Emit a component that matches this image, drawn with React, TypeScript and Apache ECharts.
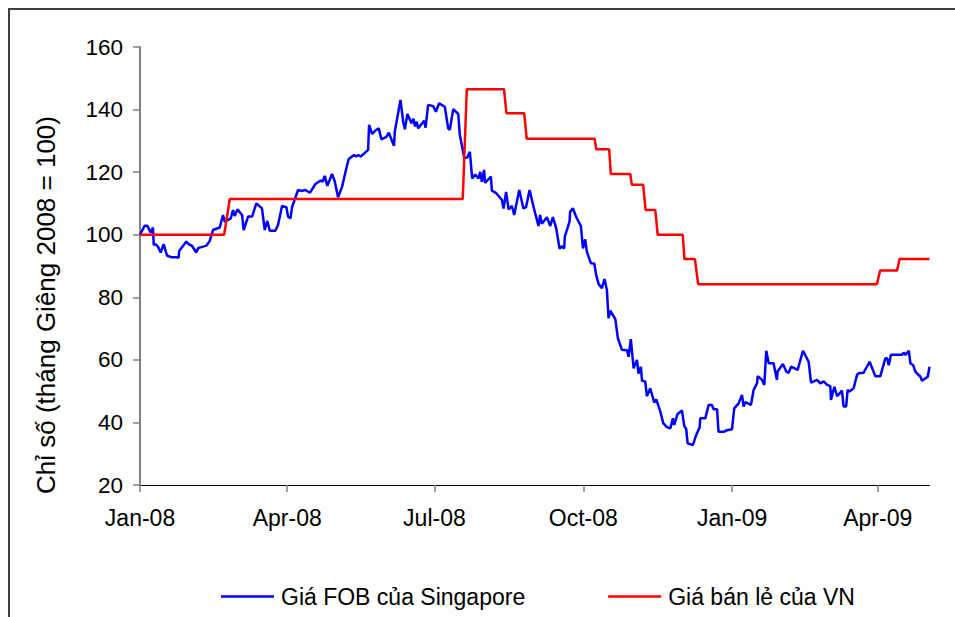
import React, { useEffect, useRef } from 'react';
import * as echarts from 'echarts';

// x = days since 1 Jan 2008
const xTickDays = [0, 91, 182, 274, 366, 456];
const xTickLabels = ['Jan-08', 'Apr-08', 'Jul-08', 'Oct-08', 'Jan-09', 'Apr-09'];
const yTicks = { min: 20, max: 160, interval: 20 };
const yAxisTitle = 'Chỉ số (tháng Giêng 2008 = 100)';
const seriesNames = ['Giá FOB của Singapore', 'Giá bán lẻ của VN'];

const fobDays = [
  0, 2.9, 4.5, 6.6, 8, 8.5, 9.5, 11.1, 12.8, 14.6, 16.7, 19.4, 22.5, 23.8, 24.3, 28.7, 30, 32.2, 34.8, 35.9,
  41, 43.1, 45.1, 49.3, 51.3, 52.4, 56.1, 57.5, 58.5, 60.2, 63.1, 64.1, 66.8, 69.3, 71.9, 75.4, 77.1, 78.7, 80.2, 83.7,
  85.3, 87.8, 90.5, 91.5, 93, 94, 97.7, 99.8, 102.2, 105, 108.4, 111.7, 113, 114.2, 115.8, 118.7, 120.4, 122.4, 124.9, 127.6,
  129, 132.3, 133.7, 135, 136.5, 141, 141.6, 143.5, 145.5, 147.6, 149.2, 152.3, 153.8, 157, 157.5, 161, 162.7, 163.7, 165.3, 167.8,
  169, 170, 171, 172, 175.6, 176.5, 178.1, 181.2, 182.9, 184.9, 188.4, 190.5, 191.5, 193.6, 196.7, 197.7, 200.4, 202.2, 203.9, 205.3,
  207.2, 209.3, 210.3, 211.3, 212.7, 213.3, 216.9, 217.5, 220, 223.7, 224.7, 226.3, 227.8, 229.9, 231.3, 234.4, 237, 238.6, 240.8, 243.2,
  246.3, 247.3, 248.4, 251.5, 253.6, 255.2, 257.3, 259.3, 260.7, 262.2, 262.6, 265.5, 265.9, 267.6, 269.6, 272.5, 273.8, 275.2, 276.2, 278.7,
  280.8, 282, 283.5, 285.5, 287.1, 288.6, 289.6, 290.7, 293.8, 295.4, 297.9, 301, 302, 303.4, 305.1, 307.2, 308.1, 309.6, 310.3, 312.3,
  313.3, 315.4, 317.9, 319.1, 321.6, 323.4, 325.7, 327.8, 329.4, 330.2, 332.3, 335, 336.4, 337.6, 338.5, 341.8, 343.8, 345.9, 346.3, 349.4,
  351.5, 353.5, 354.6, 356.7, 357.6, 360.7, 362.8, 365.9, 367.3, 370, 372.1, 373.1, 374.1, 377.6, 379.3, 381.4, 381.8, 384.5, 385.9, 387.1,
  388.6, 391.6, 393.7, 394.1, 397.4, 399.5, 400.9, 402.4, 406.5, 409.8, 413.3, 414.8, 418.5, 420.5, 422.6, 424.7, 426.7, 427.1, 429.2, 430.9,
  432.5, 433.9, 434.9, 436.5, 437.4, 438.6, 441.1, 443.2, 444.2, 447.3, 451, 454.5, 457.6, 460.7, 461.8, 462.8, 464.2, 471, 472, 473.1,
  475.2, 476.2, 477.9, 479.3, 482.4, 483.4, 485.5, 486.9, 488,
];
const fobValues = [
  100, 102.9, 102.9, 100.6, 102.3, 96.7, 97.0, 96.2, 94.3, 97.0, 93.3, 92.8, 92.8, 92.6, 94.9, 97.8, 97.0, 96.4, 94.3, 95.7,
  96.5, 98.0, 101.5, 102.3, 106.3, 104.2, 105.2, 107.9, 106.0, 108.1, 106.3, 101.5, 105.8, 105.8, 110.0, 108.4, 101.5, 104.4, 101.3, 101.3,
  103.1, 109.2, 108.8, 105.8, 105.2, 108.8, 114.3, 114.0, 114.3, 113.4, 116.2, 117.3, 117.0, 118.8, 115.6, 119.4, 117.0, 112.0, 115.3, 121.4,
  124.2, 125.5, 125.0, 125.5, 125.0, 127.1, 135.1, 132.2, 133.3, 134.0, 130.5, 131.3, 132.6, 128.4, 132.9, 143.1, 136.1, 133.7, 138.6, 135.6,
  137.1, 134.6, 136.1, 134.0, 136.4, 134.2, 141.5, 141.1, 139.3, 142.0, 140.9, 134.0, 133.5, 140.1, 138.6, 131.9, 124.7, 124.6, 126.5, 118.0,
  119.2, 118.0, 120.1, 116.9, 120.7, 116.6, 118.6, 114.1, 113.4, 111.1, 108.4, 113.7, 108.1, 109.2, 106.3, 114.3, 108.4, 108.8, 114.3, 109.0,
  102.8, 106.3, 103.5, 105.6, 102.8, 105.6, 102.0, 95.6, 96.3, 95.6, 99.4, 104.2, 107.4, 108.4, 105.7, 102.8, 95.6, 98.5, 94.6, 90.9,
  90.8, 87.1, 84.2, 82.9, 85.8, 82.3, 73.3, 75.7, 73.0, 66.9, 63.2, 63.1, 61.0, 66.6, 57.3, 60.0, 55.6, 57.8, 53.3, 53.1,
  48.4, 50.9, 46.3, 47.4, 43.5, 39.8, 38.5, 38.1, 41.3, 39.2, 42.7, 43.8, 38.9, 37.9, 33.3, 32.8, 36.0, 38.4, 41.3, 41.3,
  45.6, 45.6, 44.2, 44.2, 37.0, 37.0, 37.5, 37.8, 44.5, 46.1, 48.8, 45.1, 46.5, 45.6, 50.4, 52.5, 54.8, 53.6, 52.0, 62.9,
  58.9, 58.9, 53.6, 56.3, 58.7, 56.3, 55.8, 57.8, 56.8, 62.9, 59.4, 52.7, 53.6, 52.5, 53.1, 52.0, 51.6, 47.2, 51.4, 48.4,
  49.3, 50.2, 45.1, 45.1, 50.4, 49.9, 50.9, 55.2, 55.7, 55.9, 59.4, 54.8, 54.8, 60.5, 60.5, 58.3, 61.6, 61.6, 62.3, 61.6,
  62.9, 58.9, 58.3, 56.2, 54.6, 53.3, 54.1, 54.6, 57.8,
];

const retailDays = [
  0, 52, 55.5, 199.5, 202, 225, 226.5, 237.5, 239, 281, 282, 290, 291, 303, 304, 311, 312.5, 318.5, 320, 335.5,
  336.5, 343, 345, 455.5, 457.5, 468, 469.5, 488,
];
const retailValues = [
  100, 100, 111.4, 111.4, 146.5, 146.5, 138.8, 138.8, 130.7, 130.7, 127.3, 127.3, 119.4, 119.4, 116, 116, 107.9, 107.9, 100, 100,
  92.2, 92.2, 84.2, 84.2, 88.6, 88.6, 92.2, 92.2,
];

const FONT = '"Liberation Sans", Arial, sans-serif';

export default function App() {
  const ref = useRef<HTMLDivElement>(null);
  useEffect(() => {
    if (!ref.current) return;
    document.body.style.margin = '0';
    document.body.style.overflow = 'hidden';
    const chart = echarts.init(ref.current, null, { renderer: 'svg' });
    const fobData = fobDays.map((d, i) => [d, fobValues[i]]);
    const retailData = retailDays.map((d, i) => [d, retailValues[i]]);
    chart.setOption({
      animation: false,
      backgroundColor: '#ffffff',
      textStyle: { fontFamily: FONT },
      grid: { left: 140, right: 25.5, top: 47, bottom: 132, containLabel: false },
      xAxis: {
        type: 'value',
        min: 0,
        max: 488,
        splitLine: { show: false },
        axisLine: { show: true, lineStyle: { color: '#000000', width: 1.2 } },
        axisTick: { show: true, length: 7, inside: false, customValues: xTickDays, lineStyle: { color: '#808080', width: 1.5 } },
        axisLabel: {
          customValues: xTickDays,
          formatter: (v: number) => {
            const idx = xTickDays.indexOf(Math.round(v));
            return idx >= 0 ? xTickLabels[idx] : '';
          },
          fontSize: 23,
          color: '#000000',
          margin: 21,
          fontFamily: FONT,
        },
      },
      yAxis: {
        type: 'value',
        min: yTicks.min,
        max: yTicks.max,
        interval: yTicks.interval,
        splitLine: { show: false },
        axisLine: { show: true, lineStyle: { color: '#808080', width: 2 } },
        axisTick: { show: true, length: 7, inside: false, lineStyle: { color: '#808080', width: 1.5 } },
        axisLabel: { fontSize: 22.5, color: '#000000', margin: 17, fontFamily: FONT },
      },
      legend: {
        data: seriesNames,
        left: 221,
        top: 585,
        padding: 0,
        icon: 'rect',
        itemWidth: 53,
        itemHeight: 2.5,
        itemGap: 83,
        textStyle: { fontSize: 23, color: '#000000', fontFamily: FONT, padding: [0, 0, 0, 2] },
      },
      graphic: [
        {
          type: 'line',
          shape: { x1: 8, y1: 9, x2: 955, y2: 9 },
          style: { stroke: '#404040', lineWidth: 2 },
          silent: true,
        },
        {
          type: 'line',
          shape: { x1: 9, y1: 8, x2: 9, y2: 617 },
          style: { stroke: '#404040', lineWidth: 2 },
          silent: true,
        },
        {
          type: 'text',
          x: 46,
          y: 305,
          rotation: Math.PI / 2,
          style: {
            text: yAxisTitle,
            fontSize: 26,
            fontFamily: FONT,
            fill: '#000000',
            align: 'center',
            verticalAlign: 'middle',
          },
        },
      ],
      series: [
        {
          name: seriesNames[0],
          type: 'line',
          data: fobData,
          showSymbol: false,
          symbol: 'none',
          lineStyle: { color: '#0000ff', width: 2.5 },
          itemStyle: { color: '#0000ff' },
          z: 2,
        },
        {
          name: seriesNames[1],
          type: 'line',
          data: retailData,
          showSymbol: false,
          symbol: 'none',
          lineStyle: { color: '#ff0000', width: 2.5 },
          itemStyle: { color: '#ff0000' },
          z: 3,
        },
      ],
    });
    return () => chart.dispose();
  }, []);
  return <div ref={ref} style={{ width: 955, height: 617 }} />;
}
